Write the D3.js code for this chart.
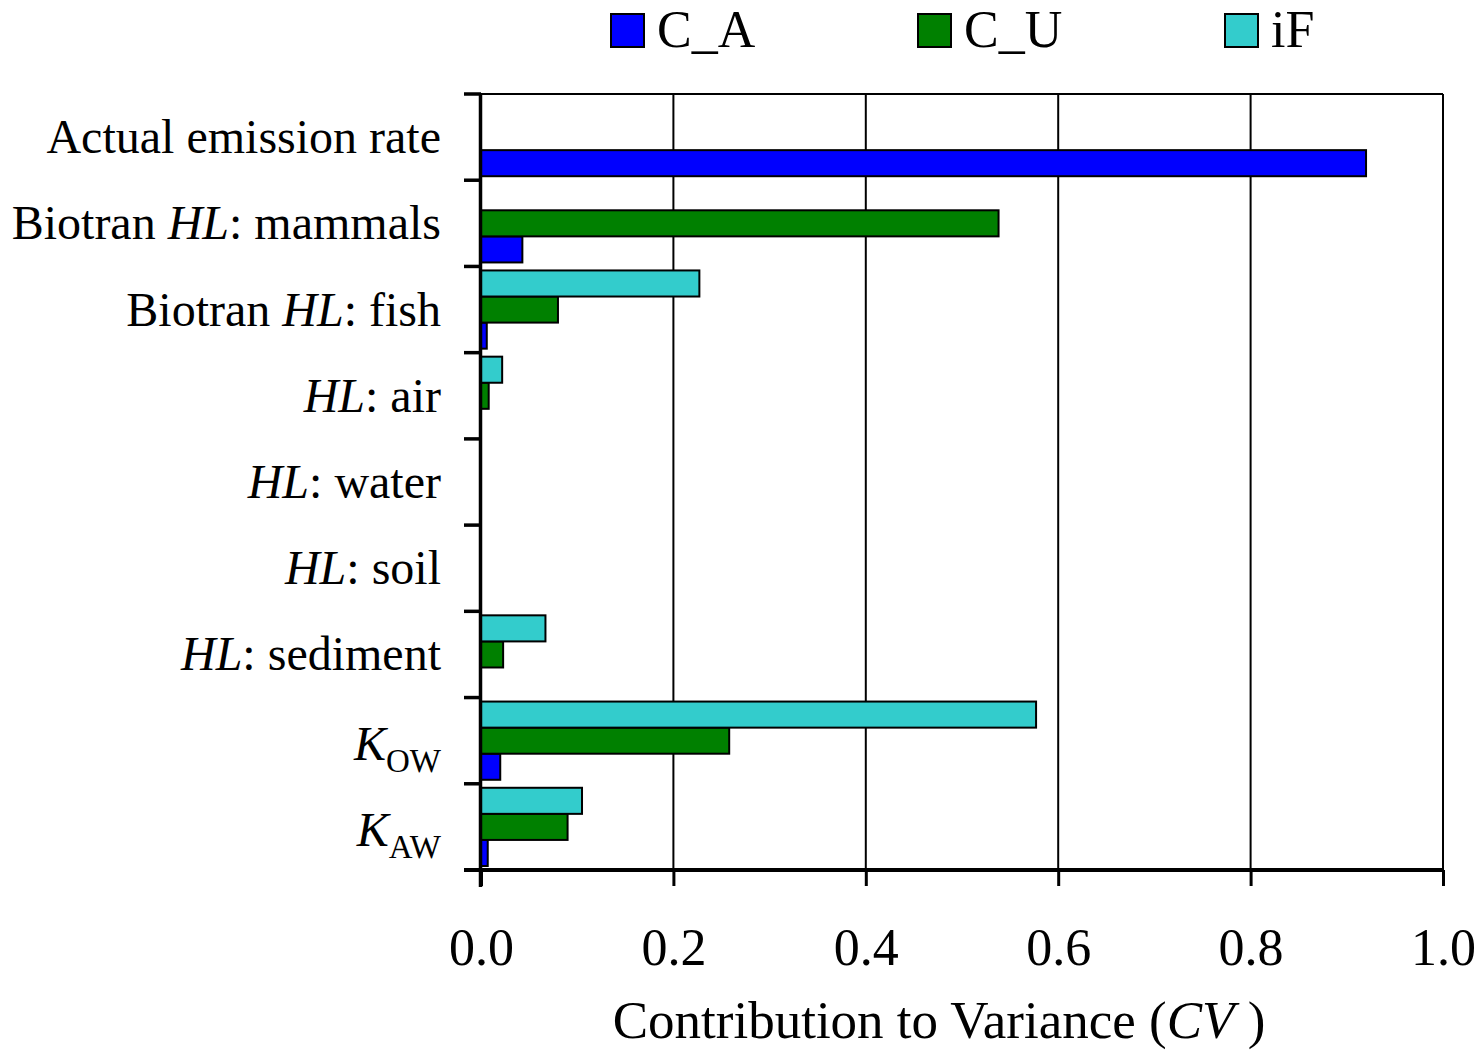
<!DOCTYPE html>
<html>
<head>
<meta charset="utf-8">
<script src="https://cdn.jsdelivr.net/npm/d3@7"></script>
<style>
  html, body { margin: 0; padding: 0; background: #fff; }
  svg { display: block; font-family: "Liberation Serif", "Times New Roman", serif; }
</style>
</head>
<body>
<svg id="chart" width="1484" height="1050"></svg>
<script>
// Input parameters, top to bottom
const categories = [
  "Actual emission rate",
  "Biotran HL: mammals",
  "Biotran HL: fish",
  "HL: air",
  "HL: water",
  "HL: soil",
  "HL: sediment",
  "K_OW",
  "K_AW"
];

// Contribution to variance for each output
const seriesNames = ["C_A", "C_U", "iF"];
const valuesCA = [0.920, 0.043, 0.006, 0.000, 0.000, 0.000, 0.000, 0.020, 0.007];
const valuesCU = [0.000, 0.538, 0.080, 0.008, 0.000, 0.000, 0.023, 0.258, 0.090];
const valuesIF = [0.000, 0.000, 0.227, 0.022, 0.000, 0.000, 0.067, 0.577, 0.105];
const seriesColors = ["#0000ff", "#008000", "#33cccc"];

const xTicks = [0, 0.2, 0.4, 0.6, 0.8, 1.0];

const series = seriesNames.map((name, i) => ({
  name,
  color: seriesColors[i],
  values: [valuesCA, valuesCU, valuesIF][i]
}));

const svg = d3.select("#chart");
const plot = { left: 481, right: 1443, top: 94, bottom: 870 };

const x = d3.scaleLinear().domain([0, 1]).range([plot.left, plot.right]);
const y = d3.scaleBand().domain(categories).range([plot.top, plot.bottom]).padding(0);
// within a category: iF on top, then C_U, then C_A
const inner = d3.scaleBand()
  .domain(["iF", "C_U", "C_A"])
  .range([4, y.bandwidth() - 4])
  .padding(0);

// vertical gridlines and frame
svg.append("g")
  .selectAll("line")
  .data(xTicks.slice(1))
  .join("line")
  .attr("x1", d => x(d)).attr("x2", d => x(d))
  .attr("y1", plot.top).attr("y2", plot.bottom)
  .attr("stroke", "#000").attr("stroke-width", 2);

svg.append("line")
  .attr("x1", plot.left).attr("x2", plot.right)
  .attr("y1", plot.top).attr("y2", plot.top)
  .attr("stroke", "#000").attr("stroke-width", 2);

// bars
const barG = svg.append("g");
series.forEach(s => {
  barG.append("g")
    .selectAll("rect")
    .data(categories.map((c, i) => ({ c, v: s.values[i] })))
    .join("rect")
    .attr("x", x(0))
    .attr("y", d => y(d.c) + inner(s.name))
    .attr("width", d => x(d.v) - x(0))
    .attr("height", inner.bandwidth())
    .attr("fill", s.color)
    .attr("stroke", "#000")
    .attr("stroke-width", 2);
});

// y axis: boundary ticks between categories
const bounds = categories.map(c => y(c)).concat([plot.bottom]);
svg.append("g")
  .selectAll("line")
  .data(bounds)
  .join("line")
  .attr("x1", plot.left - 17).attr("x2", plot.left)
  .attr("y1", d => d).attr("y2", d => d)
  .attr("stroke", "#000").attr("stroke-width", 3.5);

svg.append("line")
  .attr("x1", plot.left - 0.5).attr("x2", plot.left - 0.5)
  .attr("y1", plot.top - 1).attr("y2", plot.bottom + 17)
  .attr("stroke", "#000").attr("stroke-width", 3.5);

// x axis
const xAxis = d3.axisBottom(x).tickValues(xTicks).tickFormat(d3.format(".1f")).tickSize(16).tickPadding(42);
const xg = svg.append("g").attr("transform", `translate(0,${plot.bottom})`).call(xAxis);
xg.select(".domain").remove();
xg.selectAll(".tick line").attr("stroke", "#000").attr("stroke-width", 3);
xg.selectAll(".tick text")
  .attr("font-family", "Liberation Serif, serif")
  .attr("font-size", 52)
  .attr("fill", "#000");
svg.append("line")
  .attr("x1", plot.left - 17).attr("x2", plot.right)
  .attr("y1", plot.bottom).attr("y2", plot.bottom)
  .attr("stroke", "#000").attr("stroke-width", 4);

// category labels (HL italic, K with subscript)
const labelG = svg.append("g")
  .attr("font-size", 48)
  .attr("text-anchor", "end")
  .attr("fill", "#000");

function writeLabel(t, label) {
  if (label.startsWith("K_")) {
    t.append("tspan").attr("font-style", "italic").text("K");
    t.append("tspan").attr("font-size", 33).attr("dy", 12).text(label.slice(2));
    return;
  }
  const parts = label.split("HL");
  parts.forEach((p, i) => {
    if (i > 0) t.append("tspan").attr("font-style", "italic").text("HL");
    if (p) t.append("tspan").text(p);
  });
}

categories.forEach(c => {
  const t = labelG.append("text")
    .attr("x", 441)
    .attr("y", y(c) + y.bandwidth() / 2 + (c.startsWith("K_") ? 19 : 16));
  writeLabel(t, c);
});

// x axis title
const title = svg.append("text")
  .attr("x", 939).attr("y", 1038)
  .attr("text-anchor", "middle")
  .attr("font-size", 53)
  .attr("fill", "#000");
title.append("tspan").text("Contribution to Variance (");
title.append("tspan").attr("font-style", "italic").text("CV");
title.append("tspan").text(" )");

// legend
const legend = svg.append("g")
  .selectAll("g")
  .data(series)
  .join("g")
  .attr("transform", (d, i) => `translate(${611 + i * 307},0)`);
legend.append("rect")
  .attr("x", 0).attr("y", 14)
  .attr("width", 33).attr("height", 33)
  .attr("fill", d => d.color)
  .attr("stroke", "#000").attr("stroke-width", 2);
legend.append("text")
  .attr("x", 46).attr("y", 47)
  .attr("font-size", 52)
  .attr("fill", "#000")
  .text(d => d.name);
</script>
</body>
</html>
